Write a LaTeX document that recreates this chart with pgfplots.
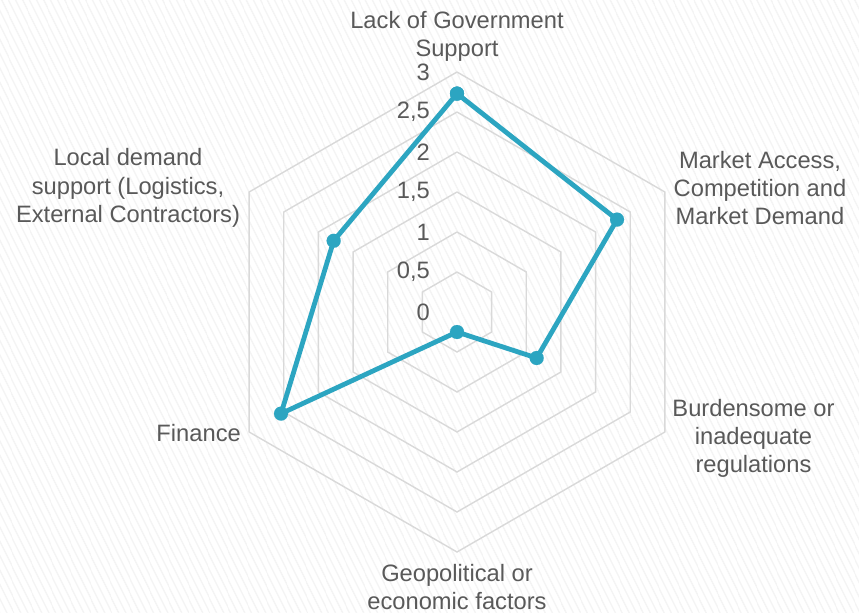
\documentclass[border=0pt]{standalone}
\usepackage{fontspec}
\setmainfont{Liberation Sans}
\usepackage{pgfplots}
\pgfplotsset{compat=1.18}
\usetikzlibrary{patterns.meta}
\definecolor{txt}{HTML}{595959}
\definecolor{gridc}{HTML}{D9D9D9}
\definecolor{ser}{HTML}{2CA5C1}
\definecolor{hatch}{HTML}{E2E2E2}
\tikzset{lbl/.style={font=\fontsize{23.7bp}{28.4bp}\selectfont, text=txt, align=center, inner sep=0pt}}
\pgfplotsset{ring/.style={draw=gridc, line width=1.4bp, mark=none, data cs=polar, line join=miter}}
\begin{document}
\begin{tikzpicture}
\begin{axis}[
  x=80bp, y=80bp,
  xmin=-5.7125, xmax=5.025, ymin=-3.75, ymax=3.9,
  hide axis, clip=false,
]
\fill[white] (rel axis cs:0,0) rectangle (rel axis cs:1,1);
\fill[pattern={Lines[angle=-64,distance=6bp,line width=0.8bp]}, pattern color=hatch] (rel axis cs:0,0) rectangle (rel axis cs:1,1);

\addplot[ring] coordinates {(90,0.5) (30,0.5) (-30,0.5) (-90,0.5) (-150,0.5) (150,0.5) (90,0.5)};
\addplot[ring] coordinates {(90,1) (30,1) (-30,1) (-90,1) (-150,1) (150,1) (90,1)};
\addplot[ring] coordinates {(90,1.5) (30,1.5) (-30,1.5) (-90,1.5) (-150,1.5) (150,1.5) (90,1.5)};
\addplot[ring] coordinates {(90,2) (30,2) (-30,2) (-90,2) (-150,2) (150,2) (90,2)};
\addplot[ring] coordinates {(90,2.5) (30,2.5) (-30,2.5) (-90,2.5) (-150,2.5) (150,2.5) (90,2.5)};
\addplot[ring] coordinates {(90,3) (30,3) (-30,3) (-90,3) (-150,3) (150,3) (90,3)};

\addplot[ser, line width=4.8bp, line join=round, data cs=polar, mark=*, mark size=7bp,
  mark options={solid, fill=ser, draw=ser, line width=0.1bp}]
  coordinates {(90,2.73) (30,2.31) (-30,1.15) (-90,0.25) (-150,2.54) (150,1.78) (90,2.73)};

\node[lbl, anchor=east] at (axis cs:-0.3375,3) {3};
\node[lbl, anchor=east] at (axis cs:-0.3375,2.5) {2,5};
\node[lbl, anchor=east] at (axis cs:-0.3375,2) {2};
\node[lbl, anchor=east] at (axis cs:-0.3375,1.5) {1,5};
\node[lbl, anchor=east] at (axis cs:-0.3375,1) {1};
\node[lbl, anchor=east] at (axis cs:-0.3375,0.5) {0,5};
\node[lbl, anchor=east] at (axis cs:-0.3375,0) {0};

\node[lbl] at (axis cs:0,3.444) {Lack of Government\\Support};
\node[lbl] at (axis cs:3.7875,1.55) {Market Access,\\Competition and\\Market Demand};
\node[lbl] at (axis cs:3.706,-1.58) {Burdensome or\\inadequate\\regulations};
\node[lbl] at (axis cs:0,-3.44) {Geopolitical or\\economic factors};
\node[lbl, anchor=east] at (axis cs:-2.7,-1.5125) {Finance};
\node[lbl] at (axis cs:-4.1125,1.55) {Local demand\\support (Logistics,\\External Contractors)};
\end{axis}
\end{tikzpicture}
\end{document}
